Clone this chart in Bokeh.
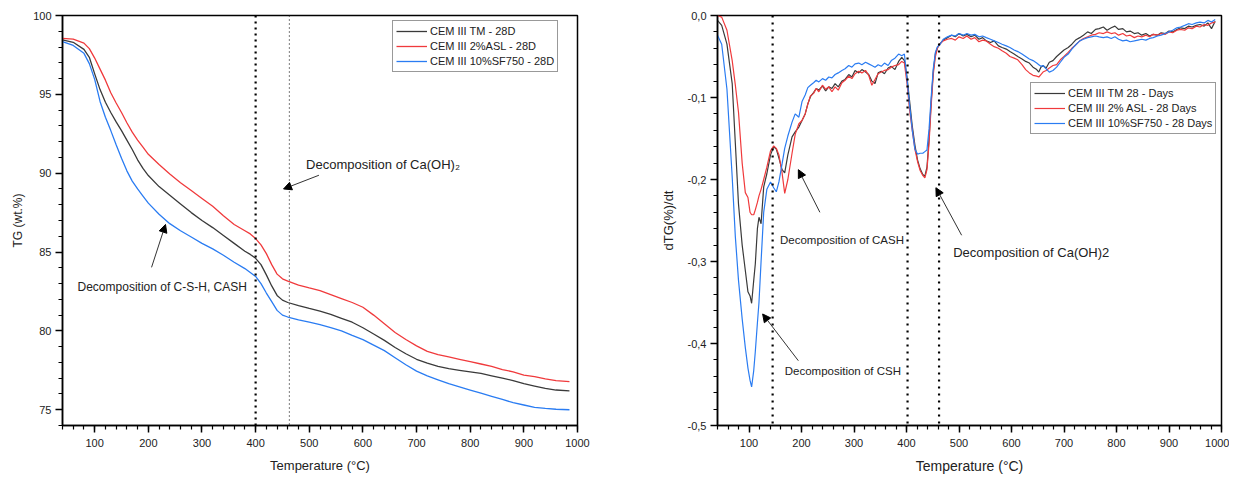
from bokeh.plotting import figure
from bokeh.layouts import row
from bokeh.models import (Span, Label, Arrow, NormalHead, Legend, LegendItem,
                          SingleIntervalTicker, CustomJSTickFormatter, Range1d)
from bokeh.embed import file_html
from bokeh.resources import INLINE

FONT = "Liberation Sans"

# ---------------- TG data (left) ----------------
tg_temp = [40, 60, 80, 90, 100, 110, 120, 130, 140, 150,
           160, 170, 180, 190, 200, 220, 240, 260, 280, 300,
           320, 340, 360, 380, 390, 400, 410, 420, 430, 440,
           450, 460, 480, 500, 520, 540, 560, 580, 600, 620,
           640, 660, 680, 700, 720, 740, 760, 780, 800, 820,
           840, 860, 880, 900, 920, 940, 960, 985]
tg_tm = [98.45, 98.3, 97.85, 97.35, 96.3, 95.3, 94.5, 93.85, 93.25, 92.7,
         92.1, 91.5, 90.85, 90.3, 89.85, 89.15, 88.6, 88.05, 87.5, 87.0,
         86.55, 86.05, 85.55, 85.05, 84.85, 84.6, 84.2, 83.55, 82.85, 82.25,
         81.95, 81.8, 81.6, 81.42, 81.25, 81.05, 80.8, 80.55, 80.2, 79.8,
         79.4, 78.95, 78.55, 78.2, 77.95, 77.75, 77.6, 77.5, 77.4, 77.3,
         77.15, 77.0, 76.85, 76.65, 76.5, 76.35, 76.25, 76.2]
tg_asl = [98.55, 98.5, 98.25, 97.9, 97.3, 96.6, 95.9, 95.1, 94.45, 93.85,
          93.2, 92.6, 92.1, 91.65, 91.2, 90.55, 89.95, 89.4, 88.9, 88.4,
          87.9, 87.3, 86.75, 86.35, 86.15, 85.85, 85.45, 84.9, 84.2, 83.6,
          83.3, 83.15, 82.9, 82.72, 82.55, 82.3, 82.05, 81.8, 81.5, 81.0,
          80.45, 79.9, 79.45, 79.05, 78.7, 78.5, 78.35, 78.2, 78.05, 77.9,
          77.75, 77.55, 77.4, 77.2, 77.1, 76.95, 76.85, 76.78]
tg_sf = [98.35, 98.1, 97.6, 96.95, 95.95, 94.55, 93.55, 92.7, 91.8, 90.95,
         90.15, 89.5, 89.0, 88.55, 88.1, 87.4, 86.8, 86.35, 85.95, 85.55,
         85.2, 84.8, 84.35, 83.95, 83.7, 83.45, 83.0, 82.4, 81.85, 81.3,
         81.0, 80.88, 80.7, 80.55, 80.4, 80.2, 80.0, 79.72, 79.45, 79.1,
         78.75, 78.3, 77.85, 77.45, 77.15, 76.9, 76.65, 76.45, 76.25, 76.05,
         75.85, 75.65, 75.45, 75.3, 75.15, 75.08, 75.03, 75.0]
tg_labels = ["CEM III TM - 28D", "CEM III 2%ASL - 28D", "CEM III 10%SF750 - 28D"]
tg_marks = [400, 463]

# ---------------- DTG data (right) ----------------
dtg_temp = [40, 48, 58, 68, 74, 80, 87, 93, 98, 102,
            105, 109, 112, 116, 119, 123, 128, 134, 141, 147,
            152, 157, 163, 168, 174, 182, 188, 195, 201, 207,
            212, 217, 223, 228, 233, 240, 246, 252, 258, 264,
            270, 277, 283, 290, 296, 302, 309, 315, 322, 328,
            334, 340, 346, 352, 358, 365, 371, 378, 385, 391,
            396, 401, 406, 411, 416, 421, 426, 431, 435, 439,
            443, 447, 451, 455, 459, 463, 470, 478, 486, 493,
            500, 508, 515, 523, 530, 538, 545, 552, 560, 567,
            575, 582, 590, 597, 605, 612, 620, 627, 634, 641,
            648, 652, 656, 660, 666, 672, 679, 686, 693, 700,
            708, 715, 722, 730, 737, 745, 752, 760, 767, 775,
            782, 790, 797, 804, 812, 819, 826, 834, 841, 848,
            856, 863, 870, 878, 885, 893, 900, 907, 915, 922,
            930, 937, 944, 952, 959, 967, 974, 981, 988]
dtg_tm = [-0.006, -0.012, -0.035, -0.083, -0.156, -0.230, -0.280, -0.311, -0.337, -0.342,
          -0.351, -0.323, -0.303, -0.260, -0.246, -0.254, -0.209, -0.193, -0.170, -0.160,
          -0.163, -0.174, -0.188, -0.192, -0.170, -0.148, -0.142, -0.136, -0.128, -0.120,
          -0.108, -0.099, -0.094, -0.089, -0.091, -0.086, -0.092, -0.087, -0.089, -0.083,
          -0.087, -0.080, -0.078, -0.072, -0.075, -0.067, -0.070, -0.066, -0.069, -0.072,
          -0.080, -0.083, -0.070, -0.068, -0.071, -0.064, -0.062, -0.066, -0.056, -0.051,
          -0.055, -0.075, -0.105, -0.135, -0.158, -0.176, -0.187, -0.194, -0.196, -0.185,
          -0.150, -0.105, -0.068, -0.047, -0.039, -0.035, -0.030, -0.027, -0.024, -0.026,
          -0.022, -0.025, -0.023, -0.026, -0.024, -0.029, -0.027, -0.031, -0.033, -0.031,
          -0.037, -0.039, -0.041, -0.044, -0.047, -0.050, -0.053, -0.056, -0.058, -0.063,
          -0.066, -0.069, -0.063, -0.061, -0.064, -0.057, -0.055, -0.050, -0.046, -0.042,
          -0.039, -0.035, -0.030, -0.027, -0.024, -0.020, -0.022, -0.017, -0.016, -0.014,
          -0.018, -0.015, -0.013, -0.017, -0.016, -0.020, -0.019, -0.022, -0.021, -0.024,
          -0.022, -0.025, -0.023, -0.024, -0.021, -0.022, -0.019, -0.020, -0.017, -0.015,
          -0.016, -0.013, -0.014, -0.012, -0.011, -0.013, -0.009, -0.016, -0.007]
dtg_asl = [0.000, -0.002, -0.018, -0.055, -0.085, -0.118, -0.180, -0.216, -0.222, -0.240,
           -0.243, -0.243, -0.237, -0.228, -0.220, -0.212, -0.200, -0.185, -0.165, -0.159,
           -0.162, -0.170, -0.192, -0.217, -0.200, -0.168, -0.145, -0.132, -0.128, -0.120,
           -0.108, -0.098, -0.095, -0.089, -0.093, -0.085, -0.090, -0.087, -0.093, -0.087,
           -0.091, -0.082, -0.079, -0.074, -0.077, -0.071, -0.068, -0.070, -0.067, -0.073,
           -0.085, -0.078, -0.071, -0.069, -0.067, -0.066, -0.063, -0.061, -0.060, -0.056,
           -0.058, -0.083, -0.116, -0.140, -0.163, -0.178, -0.189, -0.195, -0.198, -0.188,
           -0.155, -0.110, -0.072, -0.050, -0.040, -0.035, -0.031, -0.029, -0.028, -0.030,
           -0.026, -0.028, -0.025, -0.029, -0.027, -0.032, -0.030, -0.031, -0.035, -0.038,
           -0.040, -0.043, -0.046, -0.050, -0.052, -0.054, -0.060, -0.066, -0.070, -0.073,
           -0.074, -0.075, -0.072, -0.069, -0.067, -0.064, -0.061, -0.060, -0.054, -0.050,
           -0.045, -0.040, -0.036, -0.031, -0.028, -0.026, -0.024, -0.023, -0.021, -0.022,
           -0.020, -0.022, -0.021, -0.024, -0.022, -0.025, -0.024, -0.027, -0.025, -0.026,
           -0.024, -0.026, -0.023, -0.024, -0.022, -0.023, -0.020, -0.021, -0.018, -0.017,
           -0.018, -0.015, -0.016, -0.013, -0.014, -0.011, -0.012, -0.009, -0.008]
dtg_sf = [-0.024, -0.035, -0.090, -0.197, -0.270, -0.323, -0.370, -0.405, -0.430, -0.445,
          -0.453, -0.433, -0.410, -0.375, -0.350, -0.300, -0.240, -0.212, -0.203, -0.210,
          -0.215, -0.203, -0.181, -0.162, -0.147, -0.130, -0.120, -0.124, -0.105, -0.097,
          -0.088, -0.085, -0.082, -0.079, -0.081, -0.077, -0.079, -0.075, -0.076, -0.072,
          -0.070, -0.067, -0.065, -0.061, -0.063, -0.059, -0.058, -0.060, -0.057, -0.059,
          -0.061, -0.063, -0.060, -0.062, -0.058, -0.061, -0.055, -0.052, -0.047, -0.049,
          -0.047, -0.078, -0.110, -0.140, -0.163, -0.169, -0.168, -0.168, -0.166, -0.164,
          -0.138, -0.100, -0.065, -0.045, -0.038, -0.036, -0.029, -0.026, -0.024, -0.025,
          -0.022, -0.024, -0.022, -0.024, -0.023, -0.026, -0.025, -0.027, -0.029, -0.031,
          -0.033, -0.035, -0.037, -0.039, -0.042, -0.044, -0.047, -0.050, -0.053, -0.055,
          -0.058, -0.060, -0.062, -0.061, -0.065, -0.069, -0.067, -0.063, -0.057, -0.051,
          -0.047, -0.041, -0.036, -0.031, -0.029, -0.027, -0.026, -0.025, -0.026, -0.027,
          -0.026, -0.028, -0.026, -0.029, -0.031, -0.030, -0.032, -0.031, -0.030, -0.029,
          -0.030, -0.028, -0.027, -0.025, -0.024, -0.022, -0.020, -0.018, -0.015, -0.014,
          -0.012, -0.010, -0.011, -0.009, -0.008, -0.009, -0.006, -0.008, -0.005]
dtg_labels = ["CEM III TM 28 - Days", "CEM III 2% ASL - 28 Days", "CEM III 10%SF750 - 28 Days"]
dtg_marks = [145, 402, 462]

colors = ["#3a3a3a", "#f03a3c", "#2a7cf2"]

# annotation anchors (data units): text x, text y, arrow tail x,y, arrow head x,y
tg_notes = [
    ("Decomposition of Ca(OH)\u2082", "13px", 494, 90.55, 518, 89.87, 452, 89.0),
    ("Decomposition of C-S-H, CASH", "12px", 68, 82.8, 206, 84.03, 232, 86.75),
]
dtg_notes = [
    ("Decomposition of CASH", "11.5px", 159, -0.274, 235, -0.240, 194, -0.188),
    ("Decomposition of Ca(OH)2", "13px", 489, -0.289, 505, -0.268, 456, -0.210),
    ("Decomposition of CSH", "11.5px", 168, -0.433, 194, -0.421, 126, -0.364),
]


def style(p, xlabel, ylabel):
    p.grid.visible = False
    p.outline_line_color = "black"
    p.outline_line_width = 1.5
    p.outline_line_alpha = 1.0
    p.background_fill_color = "white"
    p.border_fill_color = "white"
    for ax in (p.xaxis[0], p.yaxis[0]):
        ax.axis_line_width = 1.5
        ax.axis_line_color = "black"
        ax.major_tick_line_width = 1.5
        ax.minor_tick_line_width = 1.2
        ax.major_tick_in = 0
        ax.major_tick_out = 7
        ax.minor_tick_in = 0
        ax.minor_tick_out = 4
        ax.major_label_text_font = FONT
        ax.major_label_text_font_size = "11px"
        ax.major_label_text_color = "#222222"
        ax.axis_label_text_font = FONT
        ax.axis_label_text_font_style = "normal"
        ax.axis_label_text_color = "#222222"
        ax.major_label_standoff = 4
    p.xaxis[0].major_label_standoff = 6
    p.xaxis[0].axis_label = xlabel
    p.yaxis[0].axis_label = ylabel
    p.xaxis[0].axis_label_text_font_size = "13px"
    p.yaxis[0].axis_label_text_font_size = "12px"
    p.xaxis[0].axis_label_standoff = 8
    p.yaxis[0].axis_label_standoff = 5
    p.xaxis[0].ticker = SingleIntervalTicker(interval=100, num_minor_ticks=5)


def add_notes(p, notes):
    for text, size, tx, ty, ax0, ay0, ax1, ay1 in notes:
        p.add_layout(Label(x=tx, y=ty, text=text, text_font=FONT, text_font_size=size,
                           text_color="#222222", text_baseline="middle", text_align="left"))
        p.add_layout(Arrow(end=NormalHead(size=8, fill_color="black", line_color="black", line_width=1),
                           x_start=ax0, y_start=ay0, x_end=ax1, y_end=ay1,
                           line_color="#333333", line_width=1))


def style_legend(leg, size):
    leg.border_line_color = "#333333"
    leg.border_line_width = 1
    leg.label_text_font = FONT
    leg.label_text_font_size = size
    leg.label_text_color = "#222222"
    leg.glyph_width = 31
    leg.glyph_height = 14
    leg.label_height = 14
    leg.spacing = 1
    leg.padding = 3
    leg.margin = 0
    leg.label_standoff = 3


# ---------------- left figure ----------------
p1 = figure(width=648, height=476, x_range=Range1d(40, 1000), y_range=Range1d(74, 100),
            output_backend="svg", toolbar_location=None,
            min_border_left=62, min_border_right=71, min_border_top=15, min_border_bottom=51)
style(p1, "Temperature (\u00b0C)", "TG (wt.%)")
p1.yaxis[0].ticker = SingleIntervalTicker(interval=5, num_minor_ticks=5)

r_tg = []
for ys, c in zip([tg_tm, tg_asl, tg_sf], colors):
    r_tg.append(p1.line(tg_temp, ys, line_color=c, line_width=1.3))

p1.add_layout(Span(location=tg_marks[0], dimension="height", line_color="black",
                   line_width=2.2, line_dash="2 4"))
p1.add_layout(Span(location=tg_marks[1], dimension="height", line_color="#222222",
                   line_width=1.2, line_dash="1 3"))
add_notes(p1, tg_notes)

leg1 = Legend(items=[LegendItem(label=l, renderers=[r]) for l, r in zip(tg_labels, r_tg)],
              location=(330, 353))
style_legend(leg1, "11px")
p1.add_layout(leg1)

# ---------------- right figure ----------------
p2 = figure(width=581, height=476, x_range=Range1d(40, 1000), y_range=Range1d(-0.5, 0.0),
            output_backend="svg", toolbar_location=None,
            min_border_left=69, min_border_right=8, min_border_top=15, min_border_bottom=51)
style(p2, "Temperature (\u00b0C)", "dTG(%)/dt")
p2.yaxis[0].ticker = SingleIntervalTicker(interval=0.1, num_minor_ticks=5)
p2.yaxis[0].formatter = CustomJSTickFormatter(
    code="var s = Math.abs(tick) < 1e-9 ? '0.0' : tick.toFixed(1); return s.replace('.', ',');")
p2.xaxis[0].axis_label_text_font_size = "14px"
p2.yaxis[0].axis_label_text_font_size = "13px"
p2.yaxis[0].axis_label_standoff = 9

r_dtg = []
for ys, c in zip([dtg_tm, dtg_asl, dtg_sf], colors):
    r_dtg.append(p2.line(dtg_temp, ys, line_color=c, line_width=1.2))

for m in dtg_marks:
    p2.add_layout(Span(location=m, dimension="height", line_color="black",
                       line_width=2.2, line_dash="2 5"))
add_notes(p2, dtg_notes)

leg2 = Legend(items=[LegendItem(label=l, renderers=[r]) for l, r in zip(dtg_labels, r_dtg)],
              location=(313, 291))
style_legend(leg2, "11px")
p2.add_layout(leg2)

layout = row(p1, p2)
open("out.html", "w").write(file_html(layout, INLINE))
